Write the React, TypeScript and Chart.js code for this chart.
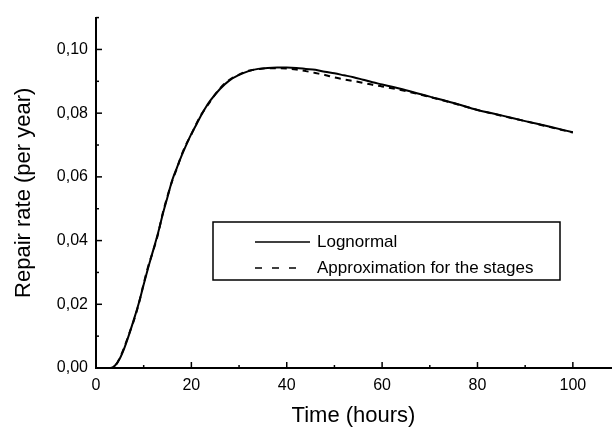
import React, { useEffect, useRef } from "react";
import { Chart, registerables } from "chart.js";

Chart.register(...registerables);

// ---- data ----
const timeHours = [0, 2, 3, 4, 5, 6, 7, 8, 9, 10, 11, 12, 13, 14, 15, 16, 17, 18, 19, 20, 21, 22, 23, 24, 26, 28, 30, 32, 34, 36, 38, 40, 42, 44, 46, 48, 50, 52, 54, 56, 58, 60, 65, 70, 75, 80, 85, 90, 95, 100];
const lognormal = [0, 0, 0, 0.0008, 0.003, 0.0065, 0.0108, 0.0155, 0.0205, 0.0262, 0.0318, 0.037, 0.0423, 0.0483, 0.0537, 0.059, 0.063, 0.0668, 0.0703, 0.0735, 0.0763, 0.0792, 0.0818, 0.084, 0.0876, 0.0903, 0.092, 0.0932, 0.0939, 0.0942, 0.0943, 0.0943, 0.0942, 0.0939, 0.0936, 0.093, 0.0925, 0.0919, 0.0913, 0.0905, 0.0897, 0.089, 0.0872, 0.0852, 0.0832, 0.081, 0.0793, 0.0775, 0.0758, 0.074];
const approximation = [0, 0, 0, 0.0006, 0.0032, 0.0068, 0.011, 0.0152, 0.0203, 0.0265, 0.0322, 0.0368, 0.042, 0.0486, 0.054, 0.0588, 0.0628, 0.0671, 0.0705, 0.0733, 0.0765, 0.0794, 0.0816, 0.0838, 0.0878, 0.0905, 0.0921, 0.0933, 0.0938, 0.0941, 0.0941, 0.094, 0.0937, 0.0932, 0.0926, 0.092, 0.0912, 0.0906, 0.0901, 0.0895, 0.0889, 0.0884, 0.0869, 0.0851, 0.0831, 0.081, 0.0792, 0.0775, 0.0757, 0.0739];
const seriesLabels = ["Lognormal", "Approximation for the stages"];
const xTitle = "Time (hours)";
const yTitle = "Repair rate (per year)";

const FONT = 'Arial, "Liberation Sans", Helvetica, sans-serif';

const tickMarks = {
  id: "tickMarks",
  afterDraw(chart: any) {
    const { ctx, chartArea, scales } = chart;
    const xs = scales.x;
    const ys = scales.y;
    ctx.save();
    ctx.strokeStyle = "#000";
    ctx.lineWidth = 1.5;
    xs.ticks.forEach((t: any) => {
      const v = t.value;
      const px = xs.getPixelForValue(v);
      const major = Math.round(v) % 20 === 0;
      const len = major ? 6 : 3;
      ctx.beginPath();
      ctx.moveTo(px, chartArea.bottom);
      ctx.lineTo(px, chartArea.bottom - len);
      ctx.stroke();
    });
    ys.ticks.forEach((t: any) => {
      const v = t.value;
      const py = ys.getPixelForValue(v);
      const major = Math.round(v * 100) % 2 === 0;
      const len = major ? 6 : 3;
      ctx.beginPath();
      ctx.moveTo(chartArea.left, py);
      ctx.lineTo(chartArea.left + len, py);
      ctx.stroke();
    });
    ctx.restore();
  },
};

const boxLegend = {
  id: "boxLegend",
  afterDraw(chart: any) {
    const { ctx } = chart;
    const left = 213, top = 222, width = 347, height = 58;
    ctx.save();
    ctx.fillStyle = "#fff";
    ctx.fillRect(left, top, width, height);
    ctx.strokeStyle = "#000";
    ctx.lineWidth = 1.5;
    ctx.strokeRect(left, top, width, height);
    ctx.font = `17px ${FONT}`;
    ctx.textBaseline = "middle";
    ctx.fillStyle = "#000";
    chart.data.datasets.forEach((ds: any, i: number) => {
      const y = top + 20 + i * 26;
      ctx.beginPath();
      ctx.lineWidth = 1.5;
      ctx.setLineDash(ds.borderDash && ds.borderDash.length ? [7, 10] : []);
      ctx.moveTo(255, y);
      ctx.lineTo(ds.borderDash && ds.borderDash.length ? 297 : 310, y);
      ctx.stroke();
      ctx.setLineDash([]);
      ctx.fillText(ds.label, 317, y);
    });
    ctx.restore();
  },
};

export default function App() {
  const ref = useRef<HTMLCanvasElement | null>(null);
  useEffect(() => {
    if (!ref.current) return;
    const chart = new Chart(ref.current, {
      type: "line",
      data: {
        datasets: [
          {
            label: seriesLabels[0],
            data: timeHours.map((t, i) => ({ x: t, y: lognormal[i] })),
            borderColor: "#000",
            borderWidth: 2,
            pointRadius: 0,
            fill: false,
            cubicInterpolationMode: "monotone",
          },
          {
            label: seriesLabels[1],
            data: timeHours.map((t, i) => ({ x: t, y: approximation[i] })),
            borderColor: "#000",
            borderWidth: 2,
            borderDash: [6, 5],
            pointRadius: 0,
            fill: false,
            cubicInterpolationMode: "monotone",
          },
        ],
      },
      options: {
        responsive: false,
        animation: false,
        layout: { padding: { top: 9, right: 2, left: 0, bottom: 0 } },
        plugins: { legend: { display: false }, tooltip: { enabled: false } },
        scales: {
          x: {
            type: "linear",
            min: 0,
            max: 108,
            afterFit(scale: any) {
              scale.height = 67;
            },
            ticks: {
              stepSize: 10,
              includeBounds: false,
              autoSkip: false,
              maxRotation: 0,
              color: "#000",
              padding: 8,
              font: { family: FONT, size: 16 },
              callback: (v: any) => (Math.round(v) % 20 === 0 ? String(Math.round(v)) : ""),
            },
            grid: { display: true, drawOnChartArea: false, drawTicks: false, color: "rgba(0,0,0,0)" },
            border: { display: true, color: "#000", width: 2 },
            title: {
              display: true,
              text: xTitle,
              color: "#000",
              font: { family: FONT, size: 22 },
              padding: { top: 0, bottom: 6 },
            },
          },
          y: {
            type: "linear",
            min: 0,
            max: 0.11,
            afterFit(scale: any) {
              scale.width = 96;
            },
            ticks: {
              stepSize: 0.01,
              includeBounds: false,
              autoSkip: false,
              color: "#000",
              padding: 8,
              font: { family: FONT, size: 16 },
              callback: (v: any) => {
                const n = Math.round(v * 100);
                return n % 2 === 0 ? (n / 100).toFixed(2).replace(".", ",") : "";
              },
            },
            grid: { display: true, drawOnChartArea: false, drawTicks: false, color: "rgba(0,0,0,0)" },
            border: { display: true, color: "#000", width: 2 },
            title: {
              display: true,
              text: yTitle,
              color: "#000",
              font: { family: FONT, size: 22 },
              padding: { top: 11, bottom: 0 },
            },
          },
        },
      },
      plugins: [tickMarks, boxLegend],
    });
    return () => chart.destroy();
  }, []);
  return (
    <div style={{ position: "absolute", left: 0, top: 0, width: 613, height: 435, background: "#fff" }}>
      <canvas ref={ref} width={613} height={435} />
    </div>
  );
}
